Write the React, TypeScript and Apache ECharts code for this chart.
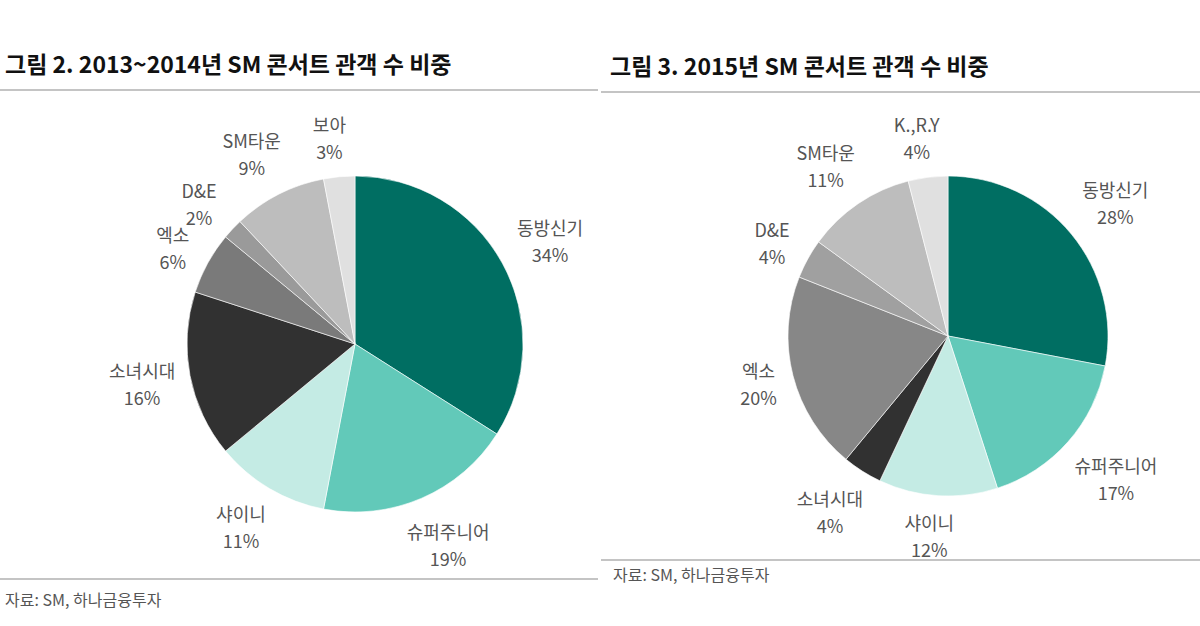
import React, { useEffect, useRef } from "react";
import * as echarts from "echarts";

const leftTitle = "그림 2. 2013~2014년 SM 콘서트 관객 수 비중";
const rightTitle = "그림 3. 2015년 SM 콘서트 관객 수 비중";
const sourceText = "자료: SM, 하나금융투자";

const leftNames = ["동방신기", "슈퍼주니어", "샤이니", "소녀시대", "엑소", "D&E", "SM타운", "보아"];
const leftValues = [34, 19, 11, 16, 6, 2, 9, 3];
const leftColors = ["#006e62", "#62c9b9", "#c4ebe4", "#313131", "#7a7a7a", "#9a9a9a", "#bdbdbd", "#e0e0e0"];

const rightNames = ["동방신기", "슈퍼주니어", "샤이니", "소녀시대", "엑소", "D&E", "SM타운", "K.,R.Y"];
const rightValues = [28, 17, 12, 4, 20, 4, 11, 4];
const rightColors = ["#006e62", "#62c9b9", "#c4ebe4", "#313131", "#878787", "#a0a0a0", "#bdbdbd", "#e0e0e0"];

const FONT = "'Noto Sans CJK KR', 'Noto Sans', sans-serif";

const centers = [[355, 344], [948, 336]];
const radii = [168, 160];
const GAP = 11;

function makeSeries(idx: number, names: string[], values: number[], colors: string[]) {
  const c = centers[idx];
  const R = radii[idx];
  return {
    type: "pie",
    center: c,
    radius: R,
    startAngle: 90,
    clockwise: true,
    avoidLabelOverlap: false,
    data: names.map((n, i) => ({ name: n, value: values[i], itemStyle: { color: colors[i] } })),
    itemStyle: { borderColor: "#ffffff", borderWidth: 0.6 },
    label: {
      show: true,
      position: "outside",
      formatter: "{b}\n{c}%",
      fontFamily: FONT,
      fontSize: 18,
      lineHeight: 27,
      color: "#555555",
    },
    labelLine: { show: false, length: 2, length2: 0 },
    labelLayout: (p: any) => {
      const r = p.labelRect;
      const mid = r.x + r.width / 2;
      const ax = mid > c[0] ? r.x : r.x + r.width;
      const ay = r.y + r.height / 2;
      let dx = ax - c[0];
      let dy = ay - c[1];
      const len = Math.sqrt(dx * dx + dy * dy) || 1;
      dx /= len;
      dy /= len;
      const d = R + GAP + Math.abs(dx) * r.width / 2 + Math.abs(dy) * r.height / 2;
      return { x: c[0] + dx * d, y: c[1] + dy * d, align: "center", verticalAlign: "middle" };
    },
    emphasis: { disabled: true },
  };
}

export default function App() {
  const ref = useRef<HTMLDivElement>(null);
  useEffect(() => {
    const chart = echarts.init(ref.current!, null, { renderer: "svg" });
    chart.setOption({
      animation: false,
      backgroundColor: "#ffffff",
      graphic: [
        { type: "text", left: 5, top: 51, style: { text: leftTitle, font: `bold 23px ${FONT}`, fill: "#111" } },
        { type: "text", left: 610, top: 53, style: { text: rightTitle, font: `bold 23px ${FONT}`, fill: "#111" } },
        { type: "line", shape: { x1: 0, y1: 90, x2: 598, y2: 90 }, style: { stroke: "#c4c4c4", lineWidth: 2 } },
        { type: "line", shape: { x1: 601, y1: 92, x2: 1200, y2: 92 }, style: { stroke: "#c4c4c4", lineWidth: 2 } },
        { type: "line", shape: { x1: 0, y1: 579, x2: 598, y2: 579 }, style: { stroke: "#c4c4c4", lineWidth: 2 } },
        { type: "line", shape: { x1: 601, y1: 560, x2: 1200, y2: 560 }, style: { stroke: "#c4c4c4", lineWidth: 2 } },
        { type: "text", left: 5, top: 591, style: { text: sourceText, font: `16px ${FONT}`, fill: "#555" } },
        { type: "text", left: 613, top: 566, style: { text: sourceText, font: `16px ${FONT}`, fill: "#555" } },
      ],
      series: [
        makeSeries(0, leftNames, leftValues, leftColors),
        makeSeries(1, rightNames, rightValues, rightColors),
      ],
    });
    return () => chart.dispose();
  }, []);
  return <div ref={ref} style={{ position: "fixed", left: 0, top: 0, width: 1200, height: 626 }} />;
}
